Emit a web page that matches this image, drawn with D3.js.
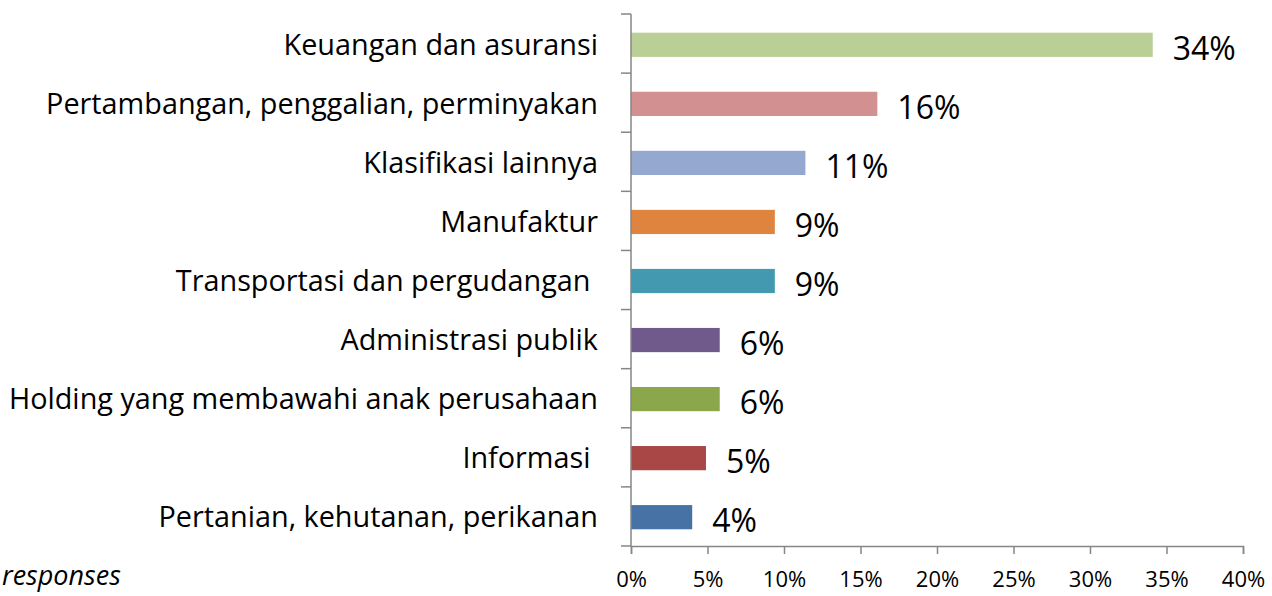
<!DOCTYPE html>
<html>
<head>
<meta charset="utf-8">
<script src="https://cdn.jsdelivr.net/npm/d3@7"></script>
<style>
  body { margin: 0; background: #fff; }
  text { font-family: "Open Sans", sans-serif; fill: #000; }
</style>
</head>
<body>
<script>
var categories = [
  "Keuangan dan asuransi",
  "Pertambangan, penggalian, perminyakan",
  "Klasifikasi lainnya",
  "Manufaktur",
  "Transportasi dan pergudangan ",
  "Administrasi publik",
  "Holding yang membawahi anak perusahaan",
  "Informasi ",
  "Pertanian, kehutanan, perikanan"
];
// bar lengths, labels as printed
var values = [34.1, 16.1, 11.4, 9.4, 9.4, 5.8, 5.8, 4.9, 4.0];
var valueLabels = ["34%", "16%", "11%", "9%", "9%", "6%", "6%", "5%", "4%"];
var colors = ["#bacf96", "#d29090", "#95a9d0", "#de843e", "#4399b0", "#705a8c", "#8aa74c", "#a84746", "#4672a6"];
var xTicks = [0, 5, 10, 15, 20, 25, 30, 35, 40];

var svgW = 1272;
var svgH = 596;
var margin = { top: 14, left: 631 };
var chartWidth = 612;
var chartHeight = 532;

var svg = d3.select("body")
  .append("svg")
  .attr("width", svgW)
  .attr("height", svgH);

var g = svg.append("g")
  .attr("transform", "translate(" + margin.left + "," + margin.top + ")");

var xScale = d3.scaleLinear()
  .domain([0, 40])
  .range([0, chartWidth]);

var yScale = d3.scaleBand()
  .domain(categories)
  .range([0, chartHeight])
  .paddingInner(0.59)
  .paddingOuter(0.3);

// bars
g.selectAll("rect.bar")
  .data(values)
  .enter()
  .append("rect")
  .attr("class", "bar")
  .attr("x", 0)
  .attr("y", function (d, i) { return yScale(categories[i]) + 1; })
  .attr("width", function (d) { return xScale(d); })
  .attr("height", yScale.bandwidth())
  .attr("fill", function (d, i) { return colors[i]; });

// value labels
g.selectAll("text.val")
  .data(values)
  .enter()
  .append("text")
  .attr("class", "val")
  .attr("x", function (d) { return xScale(d) + 20; })
  .attr("y", function (d, i) { return yScale(categories[i]) + yScale.bandwidth() / 2 + 16; })
  .style("font-size", "32px")
  .text(function (d, i) { return valueLabels[i]; });

// y axis
var band = chartHeight / categories.length;
var yAxis = g.append("g").attr("class", "yAxis");
yAxis.append("line")
  .attr("x1", 0).attr("x2", 0)
  .attr("y1", 0).attr("y2", chartHeight)
  .attr("stroke", "#868686").attr("stroke-width", 1.5);
yAxis.selectAll("line.tick")
  .data(d3.range(categories.length + 1))
  .enter()
  .append("line")
  .attr("class", "tick")
  .attr("x1", -10).attr("x2", 0)
  .attr("y1", function (d) { return d * band; })
  .attr("y2", function (d) { return d * band; })
  .attr("stroke", "#868686").attr("stroke-width", 1.5);
yAxis.selectAll("text")
  .data(categories)
  .enter()
  .append("text")
  .attr("x", -33)
  .attr("y", function (d) { return yScale(d) + yScale.bandwidth() / 2 + 1; })
  .attr("dy", "0.35em")
  .attr("text-anchor", "end")
  .style("white-space", "pre")
  .style("font-size", "28.8px")
  .text(function (d) { return d; });

// x axis
var xAxis = d3.axisBottom(xScale)
  .tickValues(xTicks)
  .tickSize(8)
  .tickPadding(17)
  .tickFormat(function (d) { return d + "%"; });

var xg = g.append("g")
  .attr("class", "xAxis")
  .attr("transform", "translate(0," + chartHeight + ")")
  .call(xAxis);
xg.select(".domain").attr("stroke", "#868686").attr("stroke-width", 1.5);
xg.selectAll(".tick line").attr("stroke", "#868686").attr("stroke-width", 1.5);
xg.selectAll(".tick text")
  .style("font-family", "'Open Sans', sans-serif")
  .style("font-size", "22px")
  .attr("fill", "#000");

// footnote
svg.append("text")
  .attr("x", 2)
  .attr("y", 585)
  .style("font-style", "italic")
  .style("font-size", "27px")
  .text("responses");
</script>
</body>
</html>
